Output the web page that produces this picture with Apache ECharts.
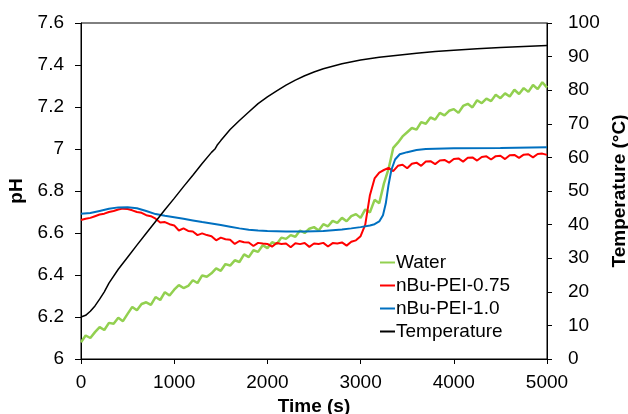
<!DOCTYPE html>
<html lang="en">
<head>
    <meta charset="UTF-8">
    <script src="https://cdn.jsdelivr.net/npm/echarts@6/dist/echarts.min.js"></script>
    <title>pH and temperature vs time</title>
</head>
<body style="margin: 0; background: #ffffff">
<div id="chart" style="width: 628px;height: 414px;"></div>

<script>
    // water and nBu-PEI-0.75 were logged every 50 s
    const sampleStep = 50;

    const phWater = [
        6.080, 6.112, 6.100, 6.128, 6.152, 6.138, 6.172, 6.168, 6.196, 6.180,
        6.215, 6.248, 6.232, 6.262, 6.270, 6.258, 6.295, 6.281, 6.318, 6.302,
        6.330, 6.352, 6.338, 6.348, 6.375, 6.362, 6.398, 6.392, 6.408, 6.432,
        6.420, 6.452, 6.445, 6.470, 6.462, 6.498, 6.485, 6.518, 6.510, 6.542,
        6.528, 6.556, 6.548, 6.578, 6.572, 6.590, 6.582, 6.612, 6.600, 6.620,
        6.628, 6.612, 6.642, 6.632, 6.658, 6.648, 6.672, 6.656, 6.680, 6.690,
        6.672, 6.712, 6.698, 6.758, 6.742, 6.835, 6.905, 7.005, 7.030, 7.060,
        7.080, 7.100, 7.092, 7.128, 7.120, 7.150, 7.140, 7.172, 7.160, 7.182,
        7.190, 7.172, 7.205, 7.215, 7.198, 7.232, 7.218, 7.240, 7.228, 7.258,
        7.242, 7.265, 7.250, 7.282, 7.262, 7.290, 7.272, 7.305, 7.285, 7.318,
        7.292
    ];

    const phPei075 = [
        6.662, 6.668, 6.672, 6.680, 6.688, 6.692, 6.700, 6.705, 6.712, 6.716,
        6.714, 6.708, 6.700, 6.696, 6.685, 6.680, 6.668, 6.650, 6.652, 6.642,
        6.636, 6.612, 6.622, 6.610, 6.607, 6.590, 6.598, 6.590, 6.585, 6.565,
        6.578, 6.570, 6.568, 6.548, 6.562, 6.556, 6.555, 6.538, 6.553, 6.550,
        6.548, 6.535, 6.552, 6.548, 6.550, 6.532, 6.551, 6.547, 6.552, 6.534,
        6.550, 6.548, 6.553, 6.536, 6.552, 6.550, 6.555, 6.540, 6.558, 6.565,
        6.585, 6.640, 6.780, 6.860, 6.888, 6.900, 6.910, 6.895, 6.920, 6.925,
        6.908, 6.930, 6.935, 6.920, 6.940, 6.942, 6.928, 6.945, 6.948, 6.935,
        6.952, 6.955, 6.940, 6.958, 6.960, 6.945, 6.962, 6.965, 6.950, 6.966,
        6.968, 6.952, 6.970, 6.972, 6.958, 6.973, 6.975, 6.960, 6.976, 6.978,
        6.972
    ];

    const timePei10 = [0, 100, 200, 300, 400, 500, 600, 700, 800, 900, 1000, 1100, 1200, 1300, 1400, 1500,
        1600, 1700, 1800, 1900, 2000, 2200, 2400, 2600, 2800, 2900, 3000, 3100, 3150, 3200, 3240, 3270,
        3300, 3330, 3370, 3420, 3500, 3600, 3700, 4000, 4500, 5000];
    const phPei10 = [6.692, 6.695, 6.705, 6.715, 6.722, 6.723, 6.718, 6.705, 6.690, 6.682, 6.675, 6.668,
        6.660, 6.652, 6.645, 6.638, 6.630, 6.622, 6.616, 6.612, 6.610, 6.607, 6.607, 6.610, 6.617, 6.622,
        6.628, 6.636, 6.642, 6.655, 6.685, 6.740, 6.830, 6.900, 6.950, 6.975, 6.985, 6.995, 7.000, 7.003,
        7.005, 7.008];

    const timeTemp = [0, 50, 100, 150, 200, 250, 300, 400, 500, 600, 700, 800, 900, 1000, 1100, 1200, 1300,
        1400, 1440, 1460, 1500, 1600, 1700, 1800, 1900, 2000, 2100, 2200, 2300, 2400, 2500, 2600, 2800, 3000,
        3200, 3400, 3600, 3800, 4000, 4250, 4500, 4750, 5000];
    const temperature = [12.5, 13.0, 14.2, 15.8, 17.8, 20.0, 22.6, 26.7, 30.3, 33.9, 37.4, 40.9, 44.4, 47.8,
        51.3, 54.7, 58.2, 61.5, 62.6, 63.6, 65.0, 68.3, 71.0, 73.5, 76.0, 78.0, 79.8, 81.5, 83.0, 84.3, 85.4,
        86.4, 87.9, 89.0, 89.8, 90.4, 91.0, 91.5, 91.9, 92.3, 92.7, 93.0, 93.3];

    const seriesNames = ["Water", "nBu-PEI-0.75", "nBu-PEI-1.0", "Temperature"];
    const seriesColors = ["#92D050", "#FF0000", "#0070C0", "#000000"];

    function pairs(times, values) {
        return values.map(function (v, i) {
            return [times[i], v];
        });
    }

    const gridTimes = phWater.map(function (v, i) {
        return i * sampleStep;
    });

    const font = "Liberation Sans";
    const myChart = echarts.init(document.getElementById('chart'));

    myChart.setOption({
        animation: false,
        textStyle: {fontFamily: font, color: "#000"},
        grid: {
            left: 81, right: 81, top: 23, bottom: 55,
            outerBoundsMode: "none",
            containLabel: false,
            show: true, borderColor: "#000", borderWidth: 1
        },
        legend: {
            orient: "vertical",
            left: 375,
            top: 248,
            itemWidth: 15,
            itemHeight: 2,
            itemGap: 4,
            icon: "rect",
            textStyle: {fontFamily: font, fontSize: 19, color: "#000", padding: [0, 0, 0, -4]},
            data: seriesNames
        },
        xAxis: {
            type: "value",
            min: 0, max: 5000, interval: 1000,
            name: "Time (s)",
            nameLocation: "middle",
            nameGap: 35,
            nameTextStyle: {fontFamily: font, fontSize: 19, fontWeight: "bold", color: "#000"},
            axisLine: {lineStyle: {color: "#000", width: 1}},
            axisTick: {show: true, length: 5, lineStyle: {color: "#000"}},
            axisLabel: {
                fontFamily: font, fontSize: 19, color: "#000", margin: 14,
                formatter: function (v) {
                    return String(v);
                }
            },
            splitLine: {show: false}
        },
        yAxis: [{
            type: "value",
            min: 6, max: 7.6, interval: 0.2,
            name: "pH",
            nameLocation: "middle",
            nameRotate: 90,
            nameGap: 45,
            nameTextStyle: {fontFamily: font, fontSize: 19, fontWeight: "bold", color: "#000"},
            axisLine: {show: true, lineStyle: {color: "#000", width: 1}},
            axisTick: {show: true, length: 6, lineStyle: {color: "#000"}},
            axisLabel: {fontFamily: font, fontSize: 19, color: "#000", margin: 17},
            splitLine: {show: false}
        }, {
            type: "value",
            min: 0, max: 100, interval: 10,
            position: "right",
            name: "Temperature (°C)",
            nameLocation: "middle",
            nameRotate: 90,
            nameGap: 59,
            nameTextStyle: {fontFamily: font, fontSize: 19, fontWeight: "bold", color: "#000"},
            axisLine: {show: true, lineStyle: {color: "#000", width: 1}},
            axisTick: {show: true, length: 5, lineStyle: {color: "#000"}},
            axisLabel: {fontFamily: font, fontSize: 19, color: "#000", margin: 21},
            splitLine: {show: false}
        }],
        series: [{
            name: seriesNames[0],
            type: "line",
            showSymbol: false,
            color: seriesColors[0],
            lineStyle: {width: 2.5},
            data: pairs(gridTimes, phWater)
        }, {
            name: seriesNames[1],
            type: "line",
            showSymbol: false,
            color: seriesColors[1],
            lineStyle: {width: 2},
            data: pairs(gridTimes, phPei075)
        }, {
            name: seriesNames[2],
            type: "line",
            showSymbol: false,
            color: seriesColors[2],
            lineStyle: {width: 2},
            data: pairs(timePei10, phPei10)
        }, {
            name: seriesNames[3],
            type: "line",
            yAxisIndex: 1,
            showSymbol: false,
            color: seriesColors[3],
            lineStyle: {width: 1.5},
            data: pairs(timeTemp, temperature)
        }]
    });
</script>
</body>
</html>
